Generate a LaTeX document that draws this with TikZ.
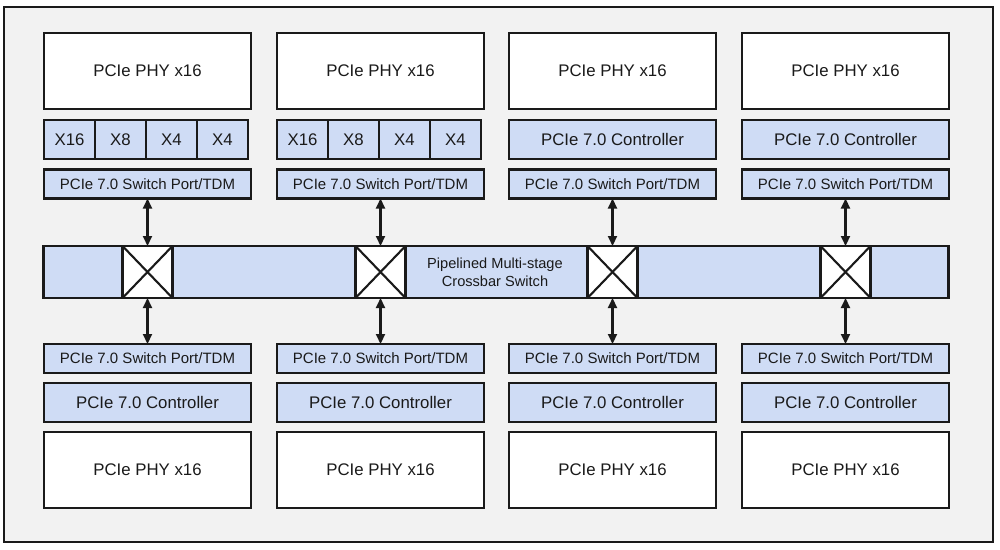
\documentclass[tikz,border=0pt]{standalone}
\usepackage{fontspec}
\setmainfont{Liberation Sans}
\usetikzlibrary{arrows.meta}
\definecolor{bgray}{HTML}{F2F2F2}
\definecolor{lblue}{HTML}{CFDCF5}
\definecolor{edge}{HTML}{1A1A1A}
\begin{document}
\begin{tikzpicture}[x=1pt,y=-1pt,
  box/.style={draw=edge, line width=2.1pt, inner sep=0pt, outer sep=0pt, text=edge},
  whitebox/.style={box, fill=white},
  bluebox/.style={box, fill=lblue},
  phybox/.style={whitebox, minimum width=207pt, minimum height=76pt, font=\fontsize{16.8}{20}\selectfont},
  ctrlbox/.style={bluebox, minimum width=207pt, minimum height=39pt, font=\fontsize{16.8}{20}\selectfont},
  portbox/.style={bluebox, minimum width=207pt, minimum height=29pt, font=\fontsize{15}{18}\selectfont},
  cellbox/.style={bluebox, minimum width=51pt, minimum height=39pt, font=\fontsize{16.8}{20}\selectfont},
  xbox/.style={whitebox, minimum width=50pt, minimum height=52pt},
  dbl/.style={line width=2.1pt, draw=edge, {Triangle[length=10pt,width=9pt]}-{Triangle[length=10pt,width=9pt]}},
]
\fill[white] (0,0) rectangle (1000,549);
\useasboundingbox (0,0) rectangle (1000,549);
\draw[fill=bgray, draw=edge, line width=1.8pt] (4,7) rectangle (993,542);

% crossbar
\node[bluebox, minimum width=905pt, minimum height=52pt] (xbar) at (496,272) {};
\node[font=\fontsize{14.6}{18}\selectfont, align=center, text=edge] (xlabel) at (495,272) {Pipelined Multi-stage\\Crossbar Switch};

\foreach \i/\cx in {1/147.5, 2/380.5, 3/612.5, 4/845.5} {
  \node[phybox] (phyT\i) at (\cx,71) {PCIe PHY x16};
  \node[portbox] (portT\i) at (\cx,184) {PCIe 7.0 Switch Port/TDM};
  \node[xbox] (xb\i) at (\cx,272) {};
  \draw[edge, line width=2.1pt] (xb\i.north west) -- (xb\i.south east);
  \draw[edge, line width=2.1pt] (xb\i.south west) -- (xb\i.north east);
  \node[portbox] (portB\i) at (\cx,358.5) {PCIe 7.0 Switch Port/TDM};
  \node[ctrlbox] (ctrlB\i) at (\cx,402.5) {PCIe 7.0 Controller};
  \node[phybox] (phyB\i) at (\cx,470) {PCIe PHY x16};
  \draw[dbl] (portT\i.south) -- (xb\i.north);
  \draw[dbl] (xb\i.south) -- (portB\i.north);
}
\foreach \i/\cx in {1/147.5, 2/380.5} {
  \foreach \k/\t in {1/X16, 2/X8, 3/X4, 4/X4} {
    \node[cellbox] (cell\i\k) at (\cx-103.5+51*\k-25.5,139.5) {\t};
  }
}
\foreach \i/\cx in {3/612.5, 4/845.5} {
  \node[ctrlbox] (ctrlT\i) at (\cx,139.5) {PCIe 7.0 Controller};
}
\end{tikzpicture}
\end{document}
